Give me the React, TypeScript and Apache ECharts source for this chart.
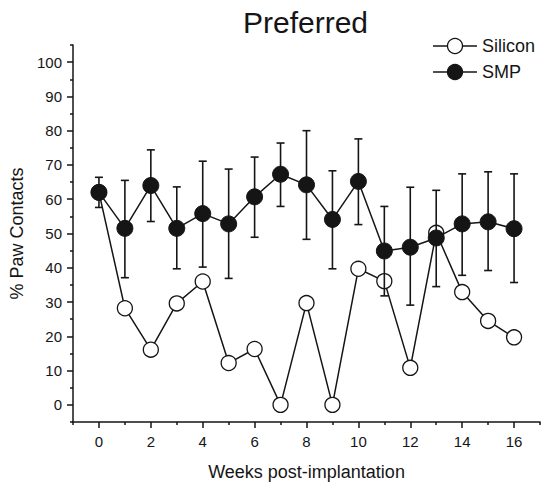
import React, { useEffect, useRef } from "react";
import * as echarts from "echarts";

const weeks = [0, 1, 2, 3, 4, 5, 6, 7, 8, 9, 10, 11, 12, 13, 14, 15, 16];
const siliconValues = [62, 28.2, 16.1, 29.6, 36.0, 12.2, 16.3, 0, 29.7, 0, 39.7, 36.1, 10.8, 50.2, 32.9, 24.5, 19.7];
const smpValues = [62.0, 51.5, 64.0, 51.5, 55.8, 52.8, 60.7, 67.3, 64.2, 54.1, 65.2, 44.9, 46.0, 48.7, 52.8, 53.4, 51.4];
const smpUpper = [66.4, 65.5, 74.4, 63.6, 71.1, 68.8, 72.3, 76.4, 80.0, 68.3, 77.6, 57.9, 63.5, 62.6, 67.4, 68.0, 67.4];
const smpLower = [57.6, 37.1, 53.5, 39.7, 40.2, 36.9, 48.9, 57.9, 48.3, 39.7, 52.6, 31.8, 29.1, 34.5, 37.8, 39.2, 35.7];

const xMajorTicks = [0, 2, 4, 6, 8, 10, 12, 14, 16];
const xMinorTicks = [-1, 1, 3, 5, 7, 9, 11, 13, 15, 17];
const yMajorTicks = [0, 10, 20, 30, 40, 50, 60, 70, 80, 90, 100];
const yMinorTicks = [-5, 5, 15, 25, 35, 45, 55, 65, 75, 85, 95, 105];
const legendNames = ["Silicon", "SMP"];

const INK = "#151515";
const FONT = "'Liberation Sans', Arial, sans-serif";

export default function App() {
  const ref = useRef<HTMLDivElement>(null);
  useEffect(() => {
    if (!ref.current) return;
    const chart = echarts.init(ref.current, null, { renderer: "svg" });
    const axisCommon = {
      type: "value" as const,
      splitLine: { show: false },
    };
    const legendItem = (i: number, filled: boolean) => {
      const y = 46 + i * 26;
      return {
        type: "group",
        children: [
          { type: "line", shape: { x1: 433, y1: y, x2: 477, y2: y }, style: { stroke: INK, lineWidth: 1.5 } },
          {
            type: "circle",
            shape: { cx: 455, cy: y, r: 7.5 },
            style: { fill: filled ? INK : "#ffffff", stroke: INK, lineWidth: 1.3 },
          },
          {
            type: "text",
            x: 482,
            y: y,
            style: { text: legendNames[i], fontFamily: FONT, fontSize: 18, fill: INK, verticalAlign: "middle", align: "left" },
          },
        ],
      };
    };
    chart.setOption({
      animation: false,
      backgroundColor: "#ffffff",
      textStyle: { fontFamily: FONT },
      title: {
        text: "Preferred",
        left: 243,
        top: 7,
        padding: 0,
        textStyle: { fontFamily: FONT, fontSize: 30, fontWeight: "normal", color: INK },
      },
      graphic: [legendItem(0, false), legendItem(1, true)],
      grid: { left: 73, right: 1, top: 45, bottom: 63, containLabel: false },
      xAxis: [
        {
          ...axisCommon,
          min: -1,
          max: 17,
          interval: 1,
          name: "Weeks post-implantation",
          nameLocation: "middle",
          nameGap: 41,
          nameTextStyle: { fontFamily: FONT, fontSize: 18, color: INK },
          axisLine: { show: true, onZero: false, lineStyle: { color: INK, width: 1.5 } },
          axisTick: { show: true, customValues: xMajorTicks, length: 6, lineStyle: { color: INK, width: 1.5 } },
          axisLabel: { customValues: xMajorTicks, fontFamily: FONT, fontSize: 15, color: INK, margin: 12 },
        },
        {
          ...axisCommon,
          min: -1,
          max: 17,
          interval: 1,
          position: "bottom",
          axisLine: { show: false, onZero: false },
          axisTick: { show: true, customValues: xMinorTicks, length: 3, lineStyle: { color: INK, width: 1.5 } },
          axisLabel: { show: false },
        },
      ],
      yAxis: [
        {
          ...axisCommon,
          min: -5,
          max: 105,
          interval: 5,
          name: "% Paw Contacts",
          nameLocation: "middle",
          nameGap: 39,
          nameTextStyle: { fontFamily: FONT, fontSize: 18, color: INK },
          axisLine: { show: true, onZero: false, lineStyle: { color: INK, width: 1.5 } },
          axisTick: { show: true, customValues: yMajorTicks, length: 6, lineStyle: { color: INK, width: 1.5 } },
          axisLabel: { customValues: yMajorTicks, fontFamily: FONT, fontSize: 15, color: INK, margin: 11 },
        },
        {
          ...axisCommon,
          min: -5,
          max: 105,
          interval: 5,
          position: "left",
          axisLine: { show: false, onZero: false },
          axisTick: { show: true, customValues: yMinorTicks, length: 3, lineStyle: { color: INK, width: 1.5 } },
          axisLabel: { show: false },
        },
      ],
      series: [
        {
          name: "Silicon",
          type: "line",
          data: weeks.map((w, i) => [w, siliconValues[i]]),
          symbol: "circle",
          symbolSize: 15,
          showAllSymbol: true,
          lineStyle: { color: INK, width: 1.5 },
          itemStyle: { color: "#ffffff", borderColor: INK, borderWidth: 1.3 },
          z: 2,
        },
        {
          name: "SMP error",
          type: "custom",
          data: weeks.map((w, i) => [w, smpLower[i], smpUpper[i]]),
          encode: { x: 0, y: [1, 2] },
          z: 3,
          renderItem: (params: any, api: any) => {
            const x = api.value(0);
            const lo = api.coord([x, api.value(1)]);
            const hi = api.coord([x, api.value(2)]);
            const hw = 4;
            const style = { stroke: INK, lineWidth: 1.6 };
            return {
              type: "group",
              children: [
                { type: "line", shape: { x1: hi[0], y1: hi[1], x2: lo[0], y2: lo[1] }, style },
                { type: "line", shape: { x1: hi[0] - hw, y1: hi[1], x2: hi[0] + hw, y2: hi[1] }, style },
                { type: "line", shape: { x1: lo[0] - hw, y1: lo[1], x2: lo[0] + hw, y2: lo[1] }, style },
              ],
            };
          },
        },
        {
          name: "SMP",
          type: "line",
          data: weeks.map((w, i) => [w, smpValues[i]]),
          symbol: "circle",
          symbolSize: 16,
          showAllSymbol: true,
          lineStyle: { color: INK, width: 1.5 },
          itemStyle: { color: INK, borderColor: INK, borderWidth: 1 },
          z: 4,
        },
      ],
    });
    return () => chart.dispose();
  }, []);
  return (
    <div
      ref={ref}
      style={{ position: "fixed", left: 0, top: 0, width: 541, height: 486, background: "#fff" }}
    />
  );
}
